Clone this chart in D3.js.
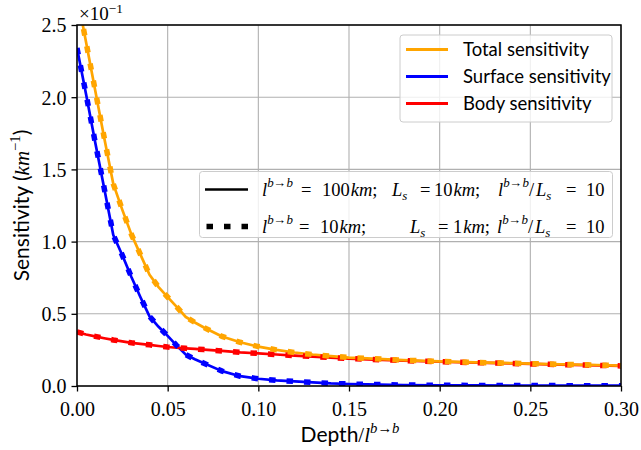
<!DOCTYPE html>
<html>
<head>
<meta charset="utf-8">
<script src="https://cdn.jsdelivr.net/npm/d3@7"></script>
<style>
  html, body { margin: 0; padding: 0; background: #fff; }
  svg { display: block; }
</style>
</head>
<body>
<div id="chart"></div>
<script>
// ---- data (values in units of 1e-1 km^-1) ----
const depth = [0, 0.005, 0.01, 0.015, 0.02, 0.025, 0.03, 0.035, 0.04, 0.045, 0.05, 0.055, 0.06, 0.065, 0.07,
  0.08, 0.09, 0.10, 0.11, 0.12, 0.13, 0.14, 0.15, 0.16, 0.18, 0.20, 0.22, 0.24, 0.26, 0.28, 0.30];
const totalSens = [2.71, 2.38, 2.05, 1.72, 1.40, 1.22, 1.05, 0.91, 0.77, 0.685, 0.615, 0.548, 0.478, 0.44, 0.405,
  0.343, 0.303, 0.273, 0.250, 0.232, 0.218, 0.207, 0.197, 0.191, 0.179, 0.170, 0.163, 0.158, 0.152, 0.147, 0.141];
const surfaceSens = [2.34, 2.02, 1.69, 1.37, 1.046, 0.905, 0.755, 0.615, 0.482, 0.41, 0.347, 0.28, 0.217, 0.185, 0.157,
  0.103, 0.068, 0.050, 0.039, 0.032, 0.025, 0.018, 0.014, 0.011, 0.007, 0.005, 0.004, 0.003, 0.003, 0.002, 0.002];
const bodySens = [0.374, 0.357, 0.344, 0.331, 0.319, 0.309, 0.299, 0.292, 0.285, 0.277, 0.270, 0.265, 0.261, 0.257, 0.252,
  0.243, 0.233, 0.226, 0.218, 0.211, 0.204, 0.197, 0.190, 0.185, 0.176, 0.168, 0.162, 0.156, 0.150, 0.145, 0.139];
const seriesNames = ["Total sensitivity", "Surface sensitivity", "Body sensitivity"];
const seriesColors = ["#ffa500", "#0000ff", "#ff0000"];
const xTicks = [0, 0.05, 0.10, 0.15, 0.20, 0.25, 0.30];
const yTicks = [0, 0.5, 1.0, 1.5, 2.0, 2.5];

// ---- layout ----
const W = 641, H = 450;
const L = 77, R = 621, T = 25, B = 386;
const SERIF = "'Liberation Serif', 'DejaVu Serif', serif";
const SANS = "Lato, 'DejaVu Sans', sans-serif";

const svg = d3.select("#chart").append("svg").attr("width", W).attr("height", H);
const x = d3.scaleLinear().domain([0, 0.30]).range([L, R]);
const y = d3.scaleLinear().domain([0, 2.5]).range([B, T]);

// grid
const grid = svg.append("g");
grid.selectAll(".gx").data(xTicks).join("line")
  .attr("x1", d => x(d)).attr("x2", d => x(d)).attr("y1", T).attr("y2", B)
  .attr("stroke", "#b0b0b0").attr("stroke-width", 1.1);
grid.selectAll(".gy").data(yTicks).join("line")
  .attr("y1", d => y(d)).attr("y2", d => y(d)).attr("x1", L).attr("x2", R)
  .attr("stroke", "#b0b0b0").attr("stroke-width", 1.1);

// clip
svg.append("clipPath").attr("id", "clip").append("rect")
  .attr("x", L).attr("y", T).attr("width", R - L).attr("height", B - T);

const line = d3.line().x(d => x(d[0])).y(d => y(d[1]));
const series = [totalSens, surfaceSens, bodySens];
const order = [1, 2, 0];
const plot = svg.append("g").attr("clip-path", "url(#clip)");
// solid
order.forEach(i => {
  plot.append("path").datum(depth.map((d, k) => [d, series[i][k]]))
    .attr("d", line).attr("fill", "none").attr("stroke", seriesColors[i])
    .attr("stroke-width", 2.7).attr("stroke-linejoin", "round");
});
// dotted
order.forEach(i => {
  plot.append("path").datum(depth.map((d, k) => [d, series[i][k]]))
    .attr("d", line).attr("fill", "none").attr("stroke", seriesColors[i])
    .attr("stroke-width", 5.5).attr("stroke-dasharray", "6.5 11");
});

// axes
const xAxis = d3.axisBottom(x).tickValues(xTicks).tickFormat(d3.format(".2f")).tickSizeOuter(0).tickSize(5.5).tickPadding(5);
const yAxis = d3.axisLeft(y).tickValues(yTicks).tickFormat(d3.format(".1f")).tickSizeOuter(0).tickSize(5.5).tickPadding(5);
const gx = svg.append("g").attr("transform", `translate(0,${B})`).call(xAxis);
const gy = svg.append("g").attr("transform", `translate(${L},0)`).call(yAxis);
[gx, gy].forEach(g => {
  g.select(".domain").remove();
  g.selectAll(".tick line").attr("stroke", "#000").attr("stroke-width", 1.3);
  g.selectAll(".tick text").attr("fill", "#000").style("font-family", SERIF).style("font-size", "20px");
});
gx.selectAll(".tick text").attr("dy", "0.95em");
gy.selectAll(".tick text").attr("dy", "0.34em");

// frame
svg.append("rect").attr("x", L).attr("y", T).attr("width", R - L).attr("height", B - T)
  .attr("fill", "none").attr("stroke", "#000").attr("stroke-width", 1.5);

// rich text helper
function rich(g, px, py, parts, size, anchor, supRaise) {
  const t = g.append("text").attr("x", px).attr("y", py)
    .attr("text-anchor", anchor || "start").style("font-size", size + "px").attr("fill", "#000");
  let cur = 0;
  parts.forEach(p => {
    const target = p.sup ? -(supRaise || 0.45) * size : p.sub ? 0.22 * size : 0;
    const ts = t.append("tspan").attr("dy", target - cur).text(p.t);
    cur = target;
    ts.style("font-family", p.sans ? SANS : SERIF);
    if (p.it) ts.style("font-style", "italic");
    if (p.sup || p.sub) ts.style("font-size", (size * 0.7) + "px");
    if (p.x !== undefined) ts.attr("x", p.x);
    if (p.dx) ts.attr("dx", p.dx);
  });
  return t;
}

// offset text
rich(svg, 79, 20, [{ t: "×10" }, { t: "−1", sup: true }], 19, "start", 0.36);

// axis labels
rich(svg, 350, 442, [{ t: "Depth", sans: true }, { t: "/" }, { t: "l", it: true }, { t: "b→b", it: true, sup: true }], 21, "middle");
const yl = svg.append("g").attr("transform", "translate(29,205.5) rotate(-90)");
rich(yl, 0, 0, [{ t: "Sensitivity (", sans: true }, { t: "km", it: true }, { t: "−1", sup: true }, { t: ")", sans: true }], 21, "middle");

// legend 1
const lg1 = svg.append("g");
lg1.append("rect").attr("x", 400).attr("y", 35).attr("width", 212).attr("height", 87).attr("rx", 3)
  .attr("fill", "#fff").attr("fill-opacity", 0.8).attr("stroke", "#cccccc").attr("stroke-width", 1);
seriesNames.forEach((n, i) => {
  const yy = 49.5 + i * 27;
  lg1.append("line").attr("x1", 406).attr("x2", 448).attr("y1", yy).attr("y2", yy)
    .attr("stroke", seriesColors[i]).attr("stroke-width", 3.2);
  lg1.append("text").attr("x", 463).attr("y", yy + 6.5).text(n)
    .style("font-family", SANS).style("font-size", "18.5px").attr("fill", "#000");
});

// legend 2
const lg2 = svg.append("g");
lg2.append("rect").attr("x", 199.5).attr("y", 171.5).attr("width", 413).attr("height", 66).attr("rx", 3)
  .attr("fill", "#fff").attr("fill-opacity", 0.8).attr("stroke", "#cccccc").attr("stroke-width", 1);
lg2.append("line").attr("x1", 205).attr("x2", 248).attr("y1", 189.5).attr("y2", 189.5)
  .attr("stroke", "#000").attr("stroke-width", 2.7);
lg2.append("line").attr("x1", 206.5).attr("x2", 248).attr("y1", 226.5).attr("y2", 226.5)
  .attr("stroke", "#000").attr("stroke-width", 5.5).attr("stroke-dasharray", "6.5 11");
const rows = [
  { y: 195.5, parts: [
    { t: "l", it: true, x: 262 }, { t: "b→b", it: true, sup: true },
    { t: "=", x: 301 }, { t: "100", x: 322 }, { t: "km", it: true, dx: 1 }, { t: ";" },
    { t: "L", it: true, x: 392 }, { t: "s", it: true, sub: true },
    { t: "=", x: 420 }, { t: "10", x: 434 }, { t: "km", it: true, dx: 1 }, { t: ";" },
    { t: "l", it: true, x: 498 }, { t: "b→b", it: true, sup: true }, { t: "/", x: 529 },
    { t: "L", it: true, x: 536 }, { t: "s", it: true, sub: true },
    { t: "=", x: 566 }, { t: "10", x: 586 }] },
  { y: 232.5, parts: [
    { t: "l", it: true, x: 262 }, { t: "b→b", it: true, sup: true },
    { t: "=", x: 299 }, { t: "10", x: 320 }, { t: "km", it: true, dx: 1 }, { t: ";" },
    { t: "L", it: true, x: 410 }, { t: "s", it: true, sub: true },
    { t: "=", x: 438 }, { t: "1", x: 453 }, { t: "km", it: true, dx: 1 }, { t: ";" },
    { t: "l", it: true, x: 497 }, { t: "b→b", it: true, sup: true }, { t: "/", x: 528 },
    { t: "L", it: true, x: 535 }, { t: "s", it: true, sub: true },
    { t: "=", x: 566 }, { t: "10", x: 586 }] }
];
rows.forEach(r => rich(lg2, 0, r.y, r.parts, 18.5));
</script>
</body>
</html>
